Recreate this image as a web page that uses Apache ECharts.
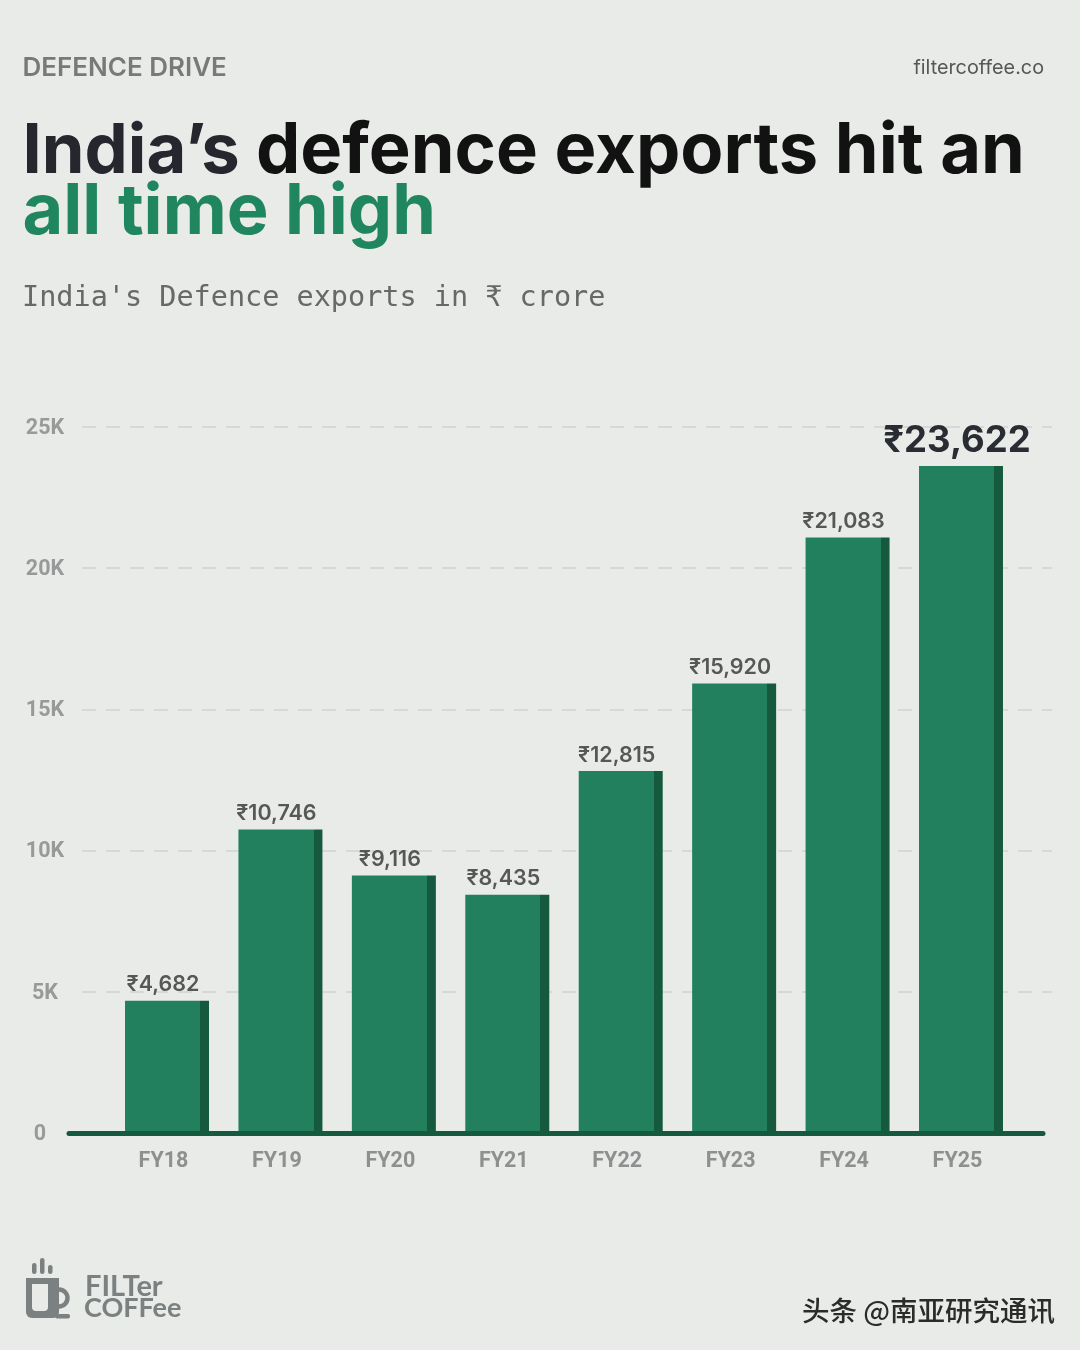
<!DOCTYPE html>
<html>
<head>
<meta charset="utf-8">
<title>India's defence exports</title>
<script src="https://cdn.jsdelivr.net/npm/echarts@6/dist/echarts.min.js"></script>
<style>
  html, body {margin: 0; padding: 0; background: #e9ebe9;}
  #chart {width: 1080px; height: 1350px;}
</style>
</head>
<body>
<div id="chart"></div>
<script>
const categories = ["FY18", "FY19", "FY20", "FY21", "FY22", "FY23", "FY24", "FY25"];
const exportValues = [4682, 10746, 9116, 8435, 12815, 15920, 21083, 23622];
const yTicks = [0, 5000, 10000, 15000, 20000, 25000];

const BG = "#e9ebe9";
const GREEN = "#22805f";
const DARK_GREEN = "#155a3f";
const LOGO = "#7b8080";
const UI_FONT = "Inter, sans-serif";
const AXIS_FONT = "Roboto, sans-serif";

const chart = echarts.init(document.getElementById("chart"));

// hard-stop gradient gives the darker right edge on each bar
const barFill = new echarts.graphic.LinearGradient(0, 0, 1, 0, [
  {offset: 0, color: GREEN},
  {offset: 0.895, color: GREEN},
  {offset: 0.895, color: DARK_GREEN},
  {offset: 1, color: DARK_GREEN},
]);

const rupee = (v) => "₹" + v.toLocaleString("en-US");

const barData = exportValues.map((v, i) => {
  if (i !== exportValues.length - 1) {return v;}
  return {
    value: v,
    label: {fontSize: 36.5, fontWeight: 700, color: "#2a2c33", distance: 6},
  };
});

const option = {
  backgroundColor: BG,
  animation: false,
  title: [
    {
      text: "DEFENCE DRIVE", left: 17.5, top: 50,
      textStyle: {fontFamily: UI_FONT, fontSize: 26, fontWeight: 600, color: "#777a78"},
    },
    {
      text: "filtercoffee.co", right: 31, top: 53,
      textStyle: {fontFamily: UI_FONT, fontSize: 19.8, fontWeight: 400, color: "#555856"},
    },
    {
      text: "{a|India’s }{b|defence exports hit an}", left: 17.5, top: 112,
      textStyle: {
        rich: {
          a: {fontFamily: UI_FONT, fontSize: 68.7, fontWeight: 700, color: "#26272e"},
          b: {fontFamily: UI_FONT, fontSize: 70.4, fontWeight: 700, color: "#111211"},
        },
      },
    },
    {
      text: "all time high", left: 17.5, top: 173,
      textStyle: {fontFamily: UI_FONT, fontSize: 70.2, fontWeight: 700, color: "#1f8660"},
    },
    {
      text: "India's Defence exports in ₹ crore", left: 17, top: 279,
      textStyle: {fontFamily: "DejaVu Sans Mono, monospace", fontSize: 28.5, fontWeight: 400, color: "#666967"},
    },
  ],
  grid: [
    // gridlines and value labels
    {left: 82, width: 970, top: 427, height: 706},
    // bars and category labels
    {left: 110.3, width: 907.4, top: 427, height: 706},
    // baseline, wider than the bars' band
    {left: 69, width: 974, top: 427, height: 706},
  ],
  xAxis: [
    {gridIndex: 0, type: "value", min: 0, max: 1, show: false},
    {
      gridIndex: 1,
      type: "category",
      data: categories,
      axisLine: {show: false},
      axisTick: {show: false},
      axisLabel: {
        margin: 18,
        padding: [0, 7, 0, 0],
        fontFamily: AXIS_FONT,
        fontSize: 21.5,
        fontWeight: 700,
        color: "#8e908f",
      },
    },
    {
      gridIndex: 2,
      type: "value",
      min: 0,
      max: 1,
      z: 5,
      axisLine: {show: true, onZero: false, lineStyle: {color: DARK_GREEN, width: 5, cap: "round"}},
      axisTick: {show: false},
      axisLabel: {show: false},
      splitLine: {show: false},
    },
  ],
  yAxis: [
    {
      gridIndex: 0,
      type: "value",
      min: yTicks[0],
      max: yTicks[yTicks.length - 1],
      interval: 5000,
      axisLine: {show: false},
      axisTick: {show: false},
      axisLabel: {
        align: "center",
        margin: 37,
        padding: [3, 0, 0, 0],
        formatter: (v) => (v === 0 ? "{zero|0}" : v / 1000 + "K"),
        rich: {
          zero: {
            fontFamily: AXIS_FONT, fontSize: 21.5, fontWeight: 700, color: "#989a99",
            padding: [0, 10, 0, 0],
          },
        },
        fontFamily: AXIS_FONT,
        fontSize: 21.5,
        fontWeight: 700,
        color: "#989a99",
      },
      splitLine: {
        show: true,
        showMinLine: false,
        lineStyle: {color: "#d6d9d7", width: 2, type: [14, 10]},
      },
    },
    {gridIndex: 1, type: "value", min: yTicks[0], max: yTicks[yTicks.length - 1], show: false},
    {gridIndex: 2, type: "value", min: 0, max: 1, show: false},
  ],
  series: [
    {
      type: "bar",
      xAxisIndex: 1,
      yAxisIndex: 1,
      data: barData,
      barWidth: 84,
      z: 3,
      itemStyle: {color: barFill},
      label: {
        show: true,
        position: "top",
        distance: 5,
        offset: [-4, 0],
        formatter: (p) => rupee(p.value),
        fontFamily: UI_FONT,
        fontSize: 21.5,
        fontWeight: 600,
        color: "#555856",
      },
    },
  ],
  graphic: [
    // steam
    {type: "rect", shape: {x: 32, y: 1263, width: 4.5, height: 11, r: 2.2}, style: {fill: LOGO}},
    {type: "rect", shape: {x: 40, y: 1258, width: 4.5, height: 16, r: 2.2}, style: {fill: LOGO}},
    {type: "rect", shape: {x: 48, y: 1265, width: 4.5, height: 9, r: 2.2}, style: {fill: LOGO}},
    // cup
    {type: "arc", shape: {cx: 59, cy: 1298, r: 8.5, startAngle: -Math.PI / 2, endAngle: Math.PI / 2}, style: {fill: "none", stroke: LOGO, lineWidth: 4.5}},
    {type: "rect", shape: {x: 26, y: 1278, width: 33, height: 40, r: [0, 0, 6, 6]}, style: {fill: LOGO}},
    {type: "rect", shape: {x: 32, y: 1284, width: 16, height: 27, r: [0, 0, 4, 4]}, style: {fill: BG}},
    {type: "rect", shape: {x: 55, y: 1314, width: 15, height: 4.5, r: 2}, style: {fill: LOGO}},
    // wordmark
    {type: "text", left: 85, top: 1272, style: {text: "FILTer", font: "700 29px Lato, sans-serif", fill: LOGO}},
    {type: "text", left: 84, top: 1295, style: {text: "COFFee", font: "700 27px Lato, sans-serif", fill: LOGO}},
    // watermark
    {
      type: "text",
      left: 802,
      top: 1297,
      style: {
        text: "头条 @南亚研究通讯",
        font: "500 27.5px 'Noto Sans CJK SC', sans-serif",
        fill: "#2b2b2b",
        shadowColor: "#ffffff",
        shadowBlur: 1,
        shadowOffsetX: -1.5,
        shadowOffsetY: 1.5,
      },
    },
  ],
};

chart.setOption(option);
</script>
</body>
</html>
